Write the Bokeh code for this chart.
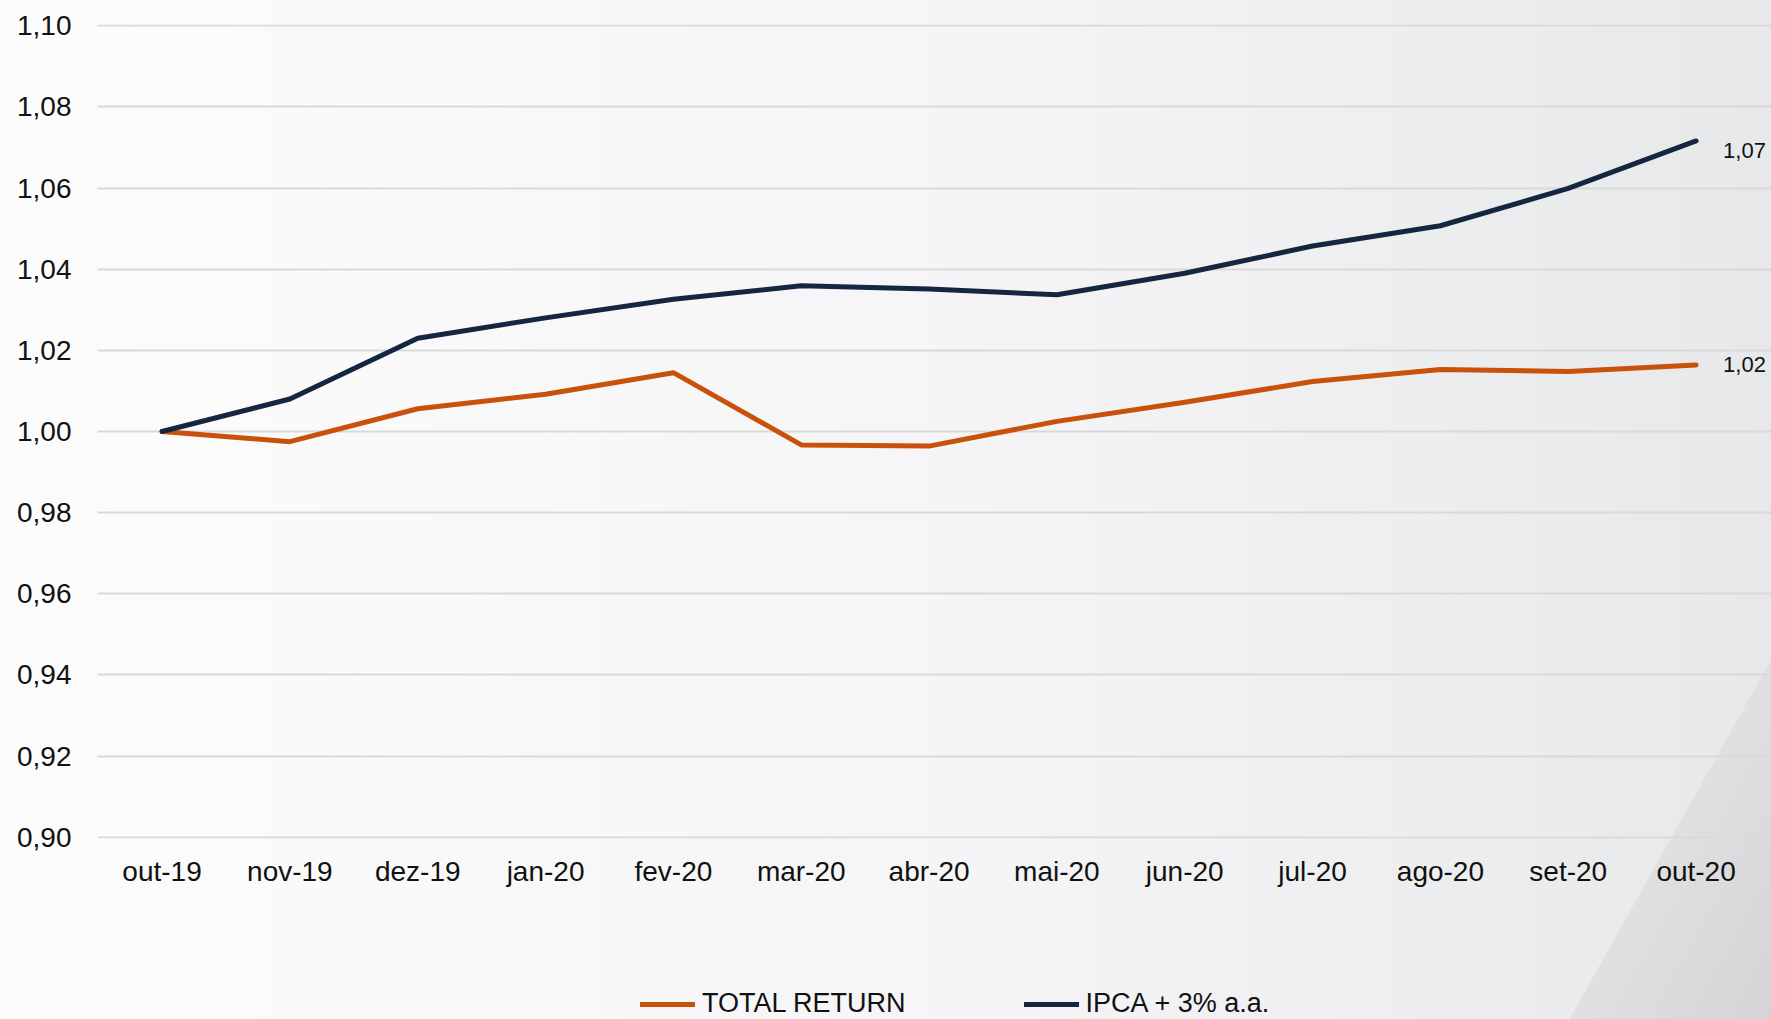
from bokeh.plotting import figure
from bokeh.layouts import column
from bokeh.models import (Range1d, FixedTicker, CustomJSTickFormatter, Legend,
                          LegendItem, LabelSet, ColumnDataSource)
from bokeh.core.properties import value
from bokeh.embed import file_html
from bokeh.resources import INLINE

# ---- data ----
months = ["out-19", "nov-19", "dez-19", "jan-20", "fev-20", "mar-20", "abr-20",
          "mai-20", "jun-20", "jul-20", "ago-20", "set-20", "out-20"]
total_return = [1.000, 0.9975, 1.0056, 1.0092, 1.0145, 0.9967, 0.9964,
                1.0025, 1.0072, 1.0123, 1.0153, 1.0148, 1.0164]
ipca_3 = [1.000, 1.008, 1.023, 1.028, 1.0326, 1.0359, 1.0351,
          1.0337, 1.039, 1.0457, 1.0507, 1.0599, 1.0716]
y_ticks = [0.90, 0.92, 0.94, 0.96, 0.98, 1.00, 1.02, 1.04, 1.06, 1.08, 1.10]
series_names = ["TOTAL RETURN", "IPCA + 3% a.a."]
series_colors = ["#C9510C", "#142640"]

x_idx = list(range(len(months)))

FONT = "Liberation Sans"
W = 1771
H_MAIN, H_LEG = 960, 59
LW = 5

p = figure(width=W, height=H_MAIN,
           x_range=Range1d(-0.505, 12.59),
           y_range=Range1d(0.8997, 1.1003),
           output_backend="svg", toolbar_location=None,
           min_border_left=97, min_border_right=0,
           min_border_top=24, min_border_bottom=H_MAIN - 838)

p.background_fill_color = None
p.border_fill_color = None
p.outline_line_color = None

p.xgrid.visible = False
p.ygrid.grid_line_color = "#D9D9D9"
p.ygrid.grid_line_width = 2

p.yaxis.ticker = FixedTicker(ticks=y_ticks)
p.yaxis.formatter = CustomJSTickFormatter(code="return tick.toFixed(2).replace('.', ',');")
p.xaxis.ticker = FixedTicker(ticks=x_idx)
p.xaxis.major_label_overrides = {i: m for i, m in zip(x_idx, months)}
for ax in (p.xaxis[0], p.yaxis[0]):
    ax.axis_line_color = None
    ax.major_tick_line_color = None
    ax.minor_tick_line_color = None
    ax.major_tick_in = 0
    ax.major_tick_out = 0
    ax.minor_tick_out = 0
    ax.major_label_text_font = FONT
    ax.major_label_text_font_size = "28px"
    ax.major_label_text_color = "#111111"
p.yaxis.major_label_standoff = 26
p.xaxis.major_label_standoff = 17

p.line(x_idx, total_return, line_color=series_colors[0], line_width=LW,
       line_join="round", line_cap="round")
p.line(x_idx, ipca_3, line_color=series_colors[1], line_width=LW,
       line_join="round", line_cap="round")

# end labels
end_src = ColumnDataSource(dict(
    x=[x_idx[-1], x_idx[-1]],
    y=[ipca_3[-1], total_return[-1]],
    txt=[f"{ipca_3[-1]:.2f}".replace(".", ","), f"{total_return[-1]:.2f}".replace(".", ",")],
    yoff=[-10, 0],
))
p.add_layout(LabelSet(x="x", y="y", text="txt", source=end_src, x_offset=27, y_offset="yoff",
                      text_baseline="middle", text_font=value(FONT), text_font_size="22px",
                      text_color="#111111"))

# legend strip below the chart (proxy renderers carry the series styles only)
pl = figure(width=W, height=H_LEG, x_range=Range1d(0, 1), y_range=Range1d(0, 1),
            output_backend="svg", toolbar_location=None,
            x_axis_location=None, y_axis_location=None,
            min_border_left=0, min_border_right=0, min_border_top=0, min_border_bottom=0)
pl.background_fill_color = None
pl.border_fill_color = None
pl.outline_line_color = None
pl.xgrid.visible = False
pl.ygrid.visible = False
nan = float("nan")
leg_r = [pl.line(x=[nan], y=[nan], line_color=c, line_width=LW, line_cap="round")
         for c in series_colors]
legend = Legend(items=[LegendItem(label=n, renderers=[r]) for n, r in zip(series_names, leg_r)],
                orientation="horizontal", location=(543, 0),
                background_fill_alpha=0, border_line_color=None,
                label_text_font=FONT, label_text_font_size="27px",
                label_text_color="#111111",
                glyph_width=55, glyph_height=20, label_standoff=7,
                spacing=118, padding=0, margin=0)
pl.add_layout(legend)

layout = column(p, pl, spacing=0)

html = file_html(layout, INLINE, title="chart")
css = ("<style>html{min-height:100%;background:"
       "linear-gradient(119.3deg, rgba(0,0,0,0) 91.4%, #e0e0e3 91.4%, #d4d4d7 100%),"
       "linear-gradient(90deg, #fcfcfc 0%, #f5f5f7 55%, #e7e8ea 100%);}"
       "body{background:transparent;}</style>")
html = html.replace("</head>", css + "</head>", 1)
open("out.html", "w").write(html)
